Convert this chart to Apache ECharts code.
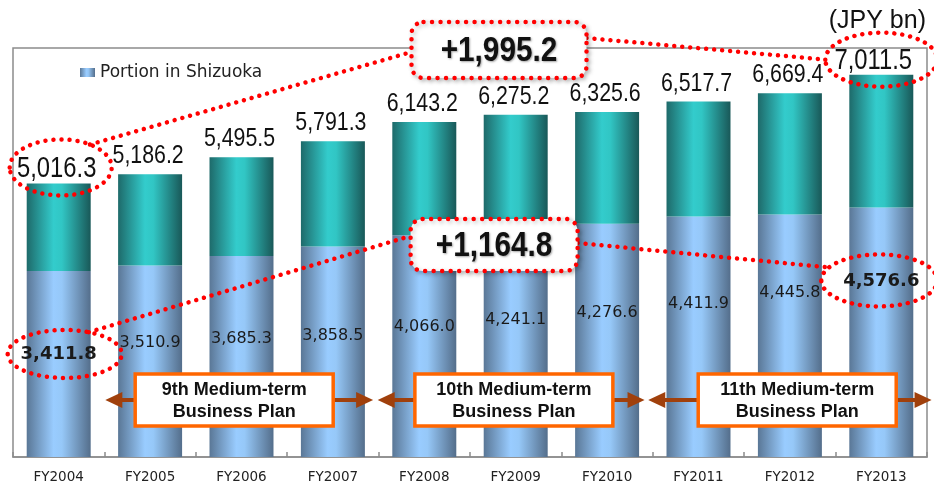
<!DOCTYPE html>
<html>
<head>
<meta charset="utf-8">
<script src="https://cdn.jsdelivr.net/npm/echarts@6/dist/echarts.min.js"></script>
<style>
  html, body { margin: 0; padding: 0; background: #ffffff; }
  #chart { width: 934px; height: 486px; }
</style>
</head>
<body>
<div id="chart"></div>
<script>
// Loans outstanding (JPY bn)
const categories = ['FY2004', 'FY2005', 'FY2006', 'FY2007', 'FY2008', 'FY2009', 'FY2010', 'FY2011', 'FY2012', 'FY2013'];
const totalLoans = [5016.3, 5186.2, 5495.5, 5791.3, 6143.2, 6275.2, 6325.6, 6517.7, 6669.4, 7011.5];
const shizuokaLoans = [3411.8, 3510.9, 3685.3, 3858.5, 4066.0, 4241.1, 4276.6, 4411.9, 4445.8, 4576.6];

// Medium-term business plans
const planNames = ['9th Medium-term\nBusiness Plan', '10th Medium-term\nBusiness Plan', '11th Medium-term\nBusiness Plan'];
const planStart = [0.51, 3.49, 6.45];   // arrow ends, in category units
const planEnd = [3.44, 6.41, 9.55];
const planCenter = [1.92, 4.98, 8.08];

// vertical placement of the in-bar value labels (px below segment top)
const innerLabelDrop = [83, 77, 83, 89, 92, 94, 89, 87, 78, 74];

const fmt = v => v.toLocaleString('en-US', { minimumFractionDigits: 1, maximumFractionDigits: 1 });
const otherLoans = totalLoans.map((t, i) => +(t - shizuokaLoans[i]).toFixed(1));
const last = categories.length - 1;
const totalGrowth = totalLoans[last] - totalLoans[0];
const shizuokaGrowth = shizuokaLoans[last] - shizuokaLoans[0];

const SANS = '"Liberation Sans", Arial, sans-serif';
const WIDE = '"DejaVu Sans", Verdana, sans-serif';
const RED = '#ff0000';
const BROWN = '#a0400c';
const ORANGE = '#ff6600';

const blueFill = new echarts.graphic.LinearGradient(0, 0, 1, 0, [
  { offset: 0, color: '#5a7796' },
  { offset: 0.42, color: '#99ccff' },
  { offset: 0.55, color: '#96c8f8' },
  { offset: 1, color: '#546e8b' }
]);
const tealFill = new echarts.graphic.LinearGradient(0, 0, 1, 0, [
  { offset: 0, color: '#1e6a6a' },
  { offset: 0.42, color: '#33cccc' },
  { offset: 0.55, color: '#31c6c4' },
  { offset: 1, color: '#195858' }
]);

const chart = echarts.init(document.getElementById('chart'), null, { renderer: 'canvas' });

chart.setOption({
  animation: false,
  backgroundColor: '#ffffff',
  grid: {
    left: 13, right: 7, top: 48, bottom: 29,
    show: true, borderColor: '#8c8c8c', borderWidth: 1.5, backgroundColor: 'transparent'
  },
  legend: {
    data: ['Portion in Shizuoka'],
    left: 75, top: 59,
    itemWidth: 15, itemHeight: 9, itemGap: 8,
    icon: 'rect',
    textStyle: { fontFamily: WIDE, fontSize: 17, color: '#222222' }
  },
  xAxis: {
    type: 'category',
    data: categories,
    axisLine: { lineStyle: { color: '#8c8c8c', width: 1.5 } },
    axisTick: { show: true, inside: true, length: 5, lineStyle: { color: '#8c8c8c', width: 1.5 } },
    axisLabel: { margin: 13, fontFamily: WIDE, fontSize: 13.5, color: '#222222' }
  },
  yAxis: {
    type: 'value', min: 0, max: 7500,
    show: false,
    splitLine: { show: false }
  },
  series: [
    {
      name: 'Portion in Shizuoka',
      type: 'bar',
      stack: 'loans',
      barWidth: '70%',
      itemStyle: { color: blueFill },
      data: shizuokaLoans.map((v, i) => {
        const key = (i === 0 || i === last);
        return {
          value: v,
          label: {
            position: ['50%', innerLabelDrop[i]],
            fontWeight: key ? 'bold' : 'normal',
            fontSize: key ? 18 : 16
          }
        };
      }),
      label: {
        show: true,
        align: 'center',
        verticalAlign: 'middle',
        fontFamily: WIDE,
        color: '#1a1a1a',
        formatter: p => fmt(shizuokaLoans[p.dataIndex])
      }
    },
    {
      name: 'Other areas',
      type: 'bar',
      stack: 'loans',
      barWidth: '70%',
      itemStyle: { color: tealFill },
      data: otherLoans
    }
  ]
});

// Totals above the bars, callouts and plan periods, placed from the axis scales
function drawAnnotations() {
  const toPx = (i, v) => chart.convertToPixel({ xAxisIndex: 0, yAxisIndex: 0 }, [i, v]);
  const x0 = toPx(0, 0)[0];
  const step = toPx(1, 0)[0] - x0;
  const catX = f => x0 + step * f;
  const dotted = { stroke: RED, fill: null, lineWidth: 4.5, lineDash: [0.01, 8], lineCap: 'round' };
  const g = [];

  // total value above each bar (condensed figures)
  totalLoans.forEach((t, i) => {
    const top = toPx(i, t);
    const key = (i === 0 || i === last);
    g.push({
      type: 'text', z: 99,
      x: top[0] + (i === last ? -8 : -2),
      y: top[1] - (key ? 14 : 18),
      scaleX: 0.82,
      style: {
        text: fmt(t), align: 'center', verticalAlign: 'middle',
        fontFamily: SANS, fontSize: key ? 29 : 26, fill: '#111111'
      }
    });
  });

  // ellipses round the first and last values
  const topFirst = toPx(0, totalLoans[0]);
  const topLast = toPx(last, totalLoans[last]);
  const midFirst = toPx(0, shizuokaLoans[0]);
  const midLast = toPx(last, shizuokaLoans[last]);
  const e1 = { cx: topFirst[0] + 2, cy: topFirst[1] - 16, rx: 51, ry: 28 };
  const e2 = { cx: topLast[0], cy: topLast[1] - 15, rx: 56, ry: 27 };
  const e3 = { cx: midFirst[0] + 6, cy: midFirst[1] + 83, rx: 57, ry: 24 };
  const e4 = { cx: midLast[0] - 2, cy: midLast[1] + 73, rx: 58, ry: 26 };
  const onEllipse = (e, deg) => {
    const a = deg * Math.PI / 180;
    return [e.cx + e.rx * Math.cos(a), e.cy - e.ry * Math.sin(a)];
  };

  // growth callout boxes
  const b1 = { x: catX(3.86), y: toPx(0, 7500)[1] - 26, w: 175, h: 56 };
  const b2 = { x: catX(3.85), y: toPx(0, 4365)[1], w: 167, h: 52 };

  [e1, e2, e3, e4].forEach(e => g.push({ type: 'ellipse', z: 100, shape: e, style: dotted }));

  const p1 = onEllipse(e1, 55), p3 = onEllipse(e3, 65), p4 = onEllipse(e4, 150), p2 = onEllipse(e2, 180);
  const lines = [
    [p1, [b1.x, b1.y + 30]],
    [[b1.x + b1.w, b1.y + 16], p2],
    [p3, [b2.x, b2.y + 17]],
    [[b2.x + b2.w, b2.y + 24], p4]
  ];
  lines.forEach(l => g.push({
    type: 'line', z: 100,
    shape: { x1: l[0][0], y1: l[0][1], x2: l[1][0], y2: l[1][1] },
    style: dotted
  }));

  [[b1, '+' + fmt(totalGrowth)], [b2, '+' + fmt(shizuokaGrowth)]].forEach(([b, txt]) => {
    g.push({
      type: 'rect', z: 101,
      shape: { x: b.x, y: b.y, width: b.w, height: b.h, r: 12 },
      style: {
        fill: '#ffffff', stroke: RED, lineWidth: 4.5, lineDash: [0.01, 8.5], lineCap: 'round',
        shadowBlur: 4, shadowColor: 'rgba(0,0,0,0.25)', shadowOffsetX: 2, shadowOffsetY: 2
      }
    });
    g.push({
      type: 'text', z: 102,
      x: b.x + b.w / 2, y: b.y + b.h / 2 + 1,
      scaleX: 0.85,
      style: {
        text: txt, align: 'center', verticalAlign: 'middle',
        fontFamily: SANS, fontWeight: 'bold', fontSize: 35, fill: '#111111',
        textShadowBlur: 2, textShadowColor: 'rgba(0,0,0,0.35)', textShadowOffsetX: 1, textShadowOffsetY: 1
      }
    });
  });

  // plan periods: double arrows with a labelled box
  const planY = 400;
  const head = (tipX, dir) => ({
    type: 'polygon', z: 103,
    shape: { points: [[tipX, planY], [tipX + dir * 17, planY - 8], [tipX + dir * 17, planY + 8]] },
    style: { fill: BROWN }
  });
  planNames.forEach((name, i) => {
    const xs = catX(planStart[i]), xe = catX(planEnd[i]), xc = catX(planCenter[i]);
    g.push({
      type: 'line', z: 103,
      shape: { x1: xs + 10, y1: planY, x2: xe - 10, y2: planY },
      style: { stroke: BROWN, lineWidth: 4 }
    });
    g.push(head(xs, 1));
    g.push(head(xe, -1));
    g.push({
      type: 'rect', z: 104,
      shape: { x: xc - 99, y: planY - 26, width: 198, height: 52 },
      style: { fill: '#ffffff', stroke: ORANGE, lineWidth: 3.5 }
    });
    g.push({
      type: 'text', z: 105,
      x: xc, y: planY + 1,
      style: {
        text: name, align: 'center', verticalAlign: 'middle',
        fontFamily: SANS, fontWeight: 'bold',
        fontSize: 18, lineHeight: 22, fill: '#111111'
      }
    });
  });

  // unit
  g.push({
    type: 'text', z: 100,
    x: 926, y: 21,
    style: {
      text: '(JPY bn)', align: 'right', verticalAlign: 'middle',
      fontFamily: SANS, fontSize: 25, fill: '#111111'
    }
  });

  chart.setOption({ graphic: { elements: g } });
}

drawAnnotations();
</script>
</body>
</html>
